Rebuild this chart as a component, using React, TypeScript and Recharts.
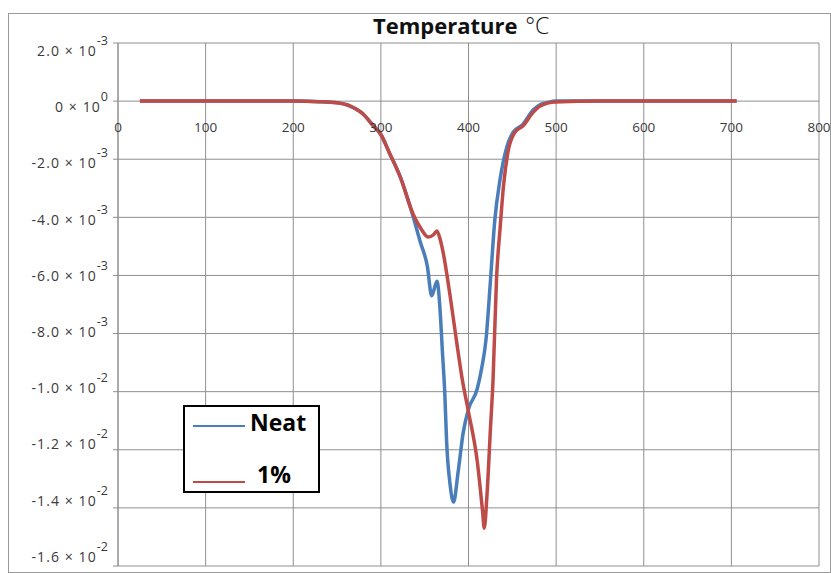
import React from 'react';
import { LineChart, Line, XAxis, YAxis, CartesianGrid, ReferenceDot, Legend } from 'recharts';

// temperature (°C) and derivative values
const neatTemp = [25, 50, 100, 150, 200, 230, 250, 265, 280, 290, 300, 310, 322, 337, 345, 353, 358, 364, 368, 370, 373, 375, 379, 383, 388, 394, 400, 410, 415, 420, 425, 430, 436, 444, 451, 462, 474, 482, 490, 500, 550, 600, 650, 706];
const neatValue = [0, 0, 0, 0, 0, -0.00002, -0.00006, -0.00017, -0.00045, -0.0008, -0.00115, -0.0018, -0.0026, -0.004, -0.00485, -0.00568, -0.0067, -0.0062, -0.0074, -0.0085, -0.0101, -0.0117, -0.0132, -0.0138, -0.0128, -0.0114, -0.0106, -0.0099, -0.0092, -0.0082, -0.0062, -0.0041, -0.0027, -0.00155, -0.00107, -0.0008, -0.0003, -0.00012, -0.00005, 0, 0, 0, 0, 0];

const pctTemp = [25, 50, 100, 150, 200, 230, 250, 265, 280, 290, 300, 310, 322, 337, 346, 354, 360, 364, 368, 371, 379, 387, 393, 400, 410, 416, 418, 421, 425, 428, 432, 436, 440, 445, 453, 462, 474, 482, 499, 550, 600, 650, 706];
const pctValue = [0, 0, 0, 0, 0, -0.00002, -0.00006, -0.00017, -0.00045, -0.0008, -0.00115, -0.0018, -0.0026, -0.0039, -0.0044, -0.00468, -0.0046, -0.00447, -0.0048, -0.0052, -0.0067, -0.0084, -0.0096, -0.0107, -0.0124, -0.0141, -0.0147, -0.0136, -0.0113, -0.0096, -0.0061, -0.0044, -0.0029, -0.00176, -0.00107, -0.00086, -0.00038, -0.00017, -0.00003, 0, 0, 0, 0];

const xTicks = [0, 100, 200, 300, 400, 500, 600, 700, 800];
const yTicks = [0.002, 0, -0.002, -0.004, -0.006, -0.008, -0.01, -0.012, -0.014, -0.016];
const yMantissa = ['2.0', '0', '-2.0', '-4.0', '-6.0', '-8.0', '-1.0', '-1.2', '-1.4', '-1.6'];
const yExponent = ['-3', '0', '-3', '-3', '-3', '-3', '-2', '-2', '-2', '-2'];

const neatData = neatTemp.map((t, i) => ({ t, v: neatValue[i] }));
const pctData = pctTemp.map((t, i) => ({ t, v: pctValue[i] }));

const BLUE = '#4a7ebb';
const RED = '#be4b48';
const GRID = '#8f8f8f';
const FONT = '"Open Sans", "DejaVu Sans", sans-serif';

// labels in the source drift upward a little relative to the grid
const YTick = (props: any) => {
  const { x, y, payload } = props;
  const i = yTicks.indexOf(payload.value);
  const drop = 13 - i * 1.9;
  return (
    <text x={x} y={y} textAnchor="end" fill="#3a3a3a" fontFamily={FONT} fontSize={14} letterSpacing={1.1}>
      <tspan dy={drop}>{yMantissa[i]} × 10</tspan>
      <tspan dy={-11} fontSize={12.5} letterSpacing={0}>{yExponent[i]}</tspan>
    </text>
  );
};

const LegendBox = () => (
  <div style={{ width: 137, height: 88, boxSizing: 'border-box', border: '2px solid #000', background: '#fff', fontFamily: FONT, fontWeight: 700, fontSize: 23, position: 'relative' }}>
    <svg width={56} height={4} style={{ position: 'absolute', left: 8, top: 17 }}>
      <line x1={0} y1={2} x2={52} y2={2} stroke={BLUE} strokeWidth={2} />
    </svg>
    <span style={{ position: 'absolute', left: 65, top: 0, lineHeight: '30px' }}>Neat</span>
    <svg width={56} height={4} style={{ position: 'absolute', left: 8, top: 73 }}>
      <line x1={0} y1={2} x2={52} y2={2} stroke={RED} strokeWidth={2} />
    </svg>
    <span style={{ position: 'absolute', left: 72, top: 52, lineHeight: '30px' }}>1%</span>
  </div>
);

export default function App() {
  return (
    <div style={{ position: 'absolute', left: 8, top: 13, width: 823, height: 560, boxSizing: 'border-box', border: '1px solid #9a9a9a', background: '#fff' }}>
      <div style={{ position: 'absolute', left: 364, top: -4, fontFamily: FONT, fontWeight: 700, fontSize: 22, lineHeight: '30px', color: '#111', whiteSpace: 'nowrap' }}>
        Temperature <span style={{ fontWeight: 300, fontSize: 23, marginLeft: 2 }}>°C</span>
      </div>
      <LineChart width={821} height={558} margin={{ top: 29, right: 11, bottom: 6, left: 0 }}>
        <CartesianGrid stroke={GRID} strokeWidth={1} />
        <XAxis type="number" dataKey="t" domain={[0, 800]} ticks={xTicks} hide allowDuplicatedCategory={false} />
        <YAxis
          type="number"
          domain={[-0.016, 0.002]}
          ticks={yTicks}
          width={109}
          tick={<YTick />}
          tickSize={5}
          tickMargin={5}
          tickLine={{ stroke: GRID }}
          axisLine={{ stroke: GRID }}
          interval={0}
        />
        {xTicks.map((t) => (
          <ReferenceDot
            key={t}
            x={t}
            y={0}
            r={0}
            stroke="none"
            fill="none"
            label={{ value: String(t), position: 'bottom', offset: 21, fill: '#3a3a3a', fontSize: 13.5, fontFamily: FONT }}
          />
        ))}
        <Line data={neatData} dataKey="v" name="Neat" type="monotone" stroke={BLUE} strokeWidth={3.5} dot={false} isAnimationActive={false} />
        <Line data={pctData} dataKey="v" name="1%" type="monotone" stroke={RED} strokeWidth={3.5} dot={false} isAnimationActive={false} />
        <Legend
          layout="vertical"
          align="center"
          verticalAlign="middle"
          content={<LegendBox />}
          wrapperStyle={{ position: 'absolute', left: 174, top: 391, width: 137, height: 88 }}
        />
      </LineChart>
    </div>
  );
}
